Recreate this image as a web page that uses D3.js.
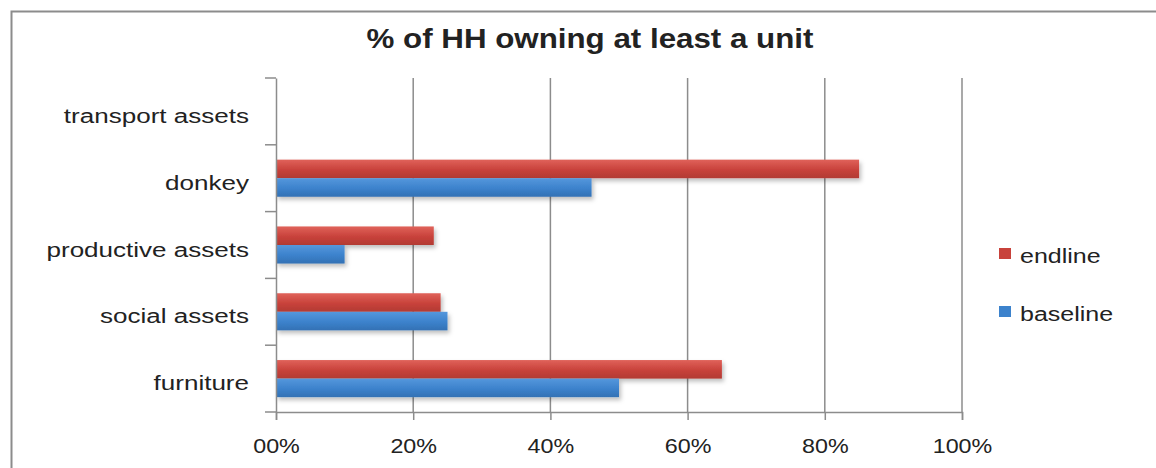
<!DOCTYPE html>
<html>
<head>
<meta charset="utf-8">
<script src="https://cdn.jsdelivr.net/npm/d3@7"></script>
<style>
  body { margin: 0; background: #fff; }
  text { font-family: "Liberation Sans", Arial, sans-serif; fill: #222; }
  .title { font-size: 27px; font-weight: bold; }
</style>
</head>
<body>
<svg width="1156" height="468"></svg>
<script>
var categories = ["transport assets", "donkey", "productive assets", "social assets", "furniture"];
var endline = [0, 0.85, 0.23, 0.24, 0.65];
var baseline = [0, 0.46, 0.10, 0.25, 0.50];
var seriesNames = ["endline", "baseline"];
var xTicks = [0, 0.2, 0.4, 0.6, 0.8, 1.0];
var xTickLabels = ["00%", "20%", "40%", "60%", "80%", "100%"];

var svg = d3.select("svg"),
    margin = {top: 78, left: 276, right: 194, bottom: 56},
    width = 1156 - margin.left - margin.right,
    height = 468 - margin.top - margin.bottom;

// the reference text is a bit wider than Liberation Sans, stretch it
var stretch = 1.24;

// chart frame
svg.append("rect")
    .attr("x", 11.5).attr("y", 11.5)
    .attr("width", 1160).attr("height", 470)
    .attr("fill", "none").attr("stroke", "#8c8c8c").attr("stroke-width", 2);

var defs = svg.append("defs");
var colors = {endline: ["#e0625a", "#c8423b", "#b23a33"], baseline: ["#5597dc", "#3c82cc", "#3371b4"]};
seriesNames.forEach(function(s) {
  var grad = defs.append("linearGradient").attr("id", "grad-" + s)
      .attr("x1", 0).attr("y1", 0).attr("x2", 0).attr("y2", 1);
  grad.append("stop").attr("offset", "0%").attr("stop-color", colors[s][0]);
  grad.append("stop").attr("offset", "55%").attr("stop-color", colors[s][1]);
  grad.append("stop").attr("offset", "100%").attr("stop-color", colors[s][2]);
});
var shadow = defs.append("filter").attr("id", "shadow")
    .attr("x", "-5%").attr("y", "-30%").attr("width", "115%").attr("height", "190%");
shadow.append("feDropShadow").attr("dx", 2).attr("dy", 3).attr("stdDeviation", 2)
    .attr("flood-color", "#000").attr("flood-opacity", 0.25);

var g = svg.append("g")
    .attr("transform", "translate(" + margin.left + "," + margin.top + ")");

var x = d3.scaleLinear().domain([0, 1]).range([0, width]);
var y = d3.scaleBand().domain(categories).range([0, height]);
var y1 = d3.scaleBand().domain(seriesNames).range([0, y.bandwidth()]).paddingOuter(0.8);

// gridlines
g.selectAll(".grid")
    .data(xTicks.slice(1))
    .enter().append("line")
    .attr("x1", function(d) { return x(d); })
    .attr("x2", function(d) { return x(d); })
    .attr("y1", 0).attr("y2", height)
    .attr("stroke", "#8c8c8c").attr("stroke-width", 1.5);

// bars
var rows = categories.map(function(c, i) {
  return {cat: c, vals: [{s: "endline", v: endline[i]}, {s: "baseline", v: baseline[i]}]};
});

var group = g.selectAll(".row")
    .data(rows)
    .enter().append("g")
    .attr("transform", function(d) { return "translate(0," + y(d.cat) + ")"; });

group.selectAll("rect")
    .data(function(d) { return d.vals.filter(function(e) { return e.v > 0; }); })
    .enter().append("rect")
    .attr("x", 0)
    .attr("y", function(d) { return y1(d.s); })
    .attr("width", function(d) { return x(d.v); })
    .attr("height", y1.bandwidth())
    .attr("fill", function(d) { return "url(#grad-" + d.s + ")"; })
    .attr("filter", "url(#shadow)");

// axes
var xAxis = g.append("g")
    .attr("class", "axis")
    .attr("transform", "translate(0," + height + ")")
    .call(d3.axisBottom(x).tickValues(xTicks)
      .tickFormat(function(d, i) { return xTickLabels[i]; })
      .tickSize(8).tickPadding(18));

var yAxis = g.append("g")
    .attr("class", "axis")
    .call(d3.axisLeft(y).tickSize(0).tickPadding(27));

// y ticks at category boundaries
g.selectAll(".ytick")
    .data(d3.range(categories.length + 1))
    .enter().append("line")
    .attr("x1", -11).attr("x2", 0)
    .attr("y1", function(i) { return i * y.step(); })
    .attr("y2", function(i) { return i * y.step(); })
    .attr("stroke", "#8c8c8c").attr("stroke-width", 1.5);

svg.selectAll(".axis path, .axis line").attr("stroke", "#8c8c8c").attr("stroke-width", 1.5);
svg.selectAll(".axis text")
    .style("font-family", "'Liberation Sans', Arial, sans-serif")
    .style("font-size", "21px")
    .attr("fill", "#222");

xAxis.selectAll("text")
    .attr("dy", "0.71em")
    .attr("transform", "scale(1.11,1)");

yAxis.selectAll("text")
    .attr("x", -27 / stretch)
    .attr("dy", "0.55em")
    .attr("transform", "scale(" + stretch + ",1)");

// title
svg.append("text")
    .attr("class", "title")
    .attr("transform", "translate(590,48) scale(1.16,1)")
    .attr("text-anchor", "middle")
    .text("% of HH owning at least a unit");

// legend
var legend = svg.selectAll(".legend")
    .data(seriesNames)
    .enter().append("g")
    .attr("transform", function(d, i) { return "translate(999," + (248 + i * 58) + ")"; });

legend.append("rect")
    .attr("width", 12).attr("height", 11)
    .attr("fill", function(d) { return colors[d][1]; });

legend.append("text")
    .attr("transform", "translate(21,15) scale(1.25,1)")
    .style("font-size", "20px")
    .text(function(d) { return d; });
</script>
</body>
</html>
